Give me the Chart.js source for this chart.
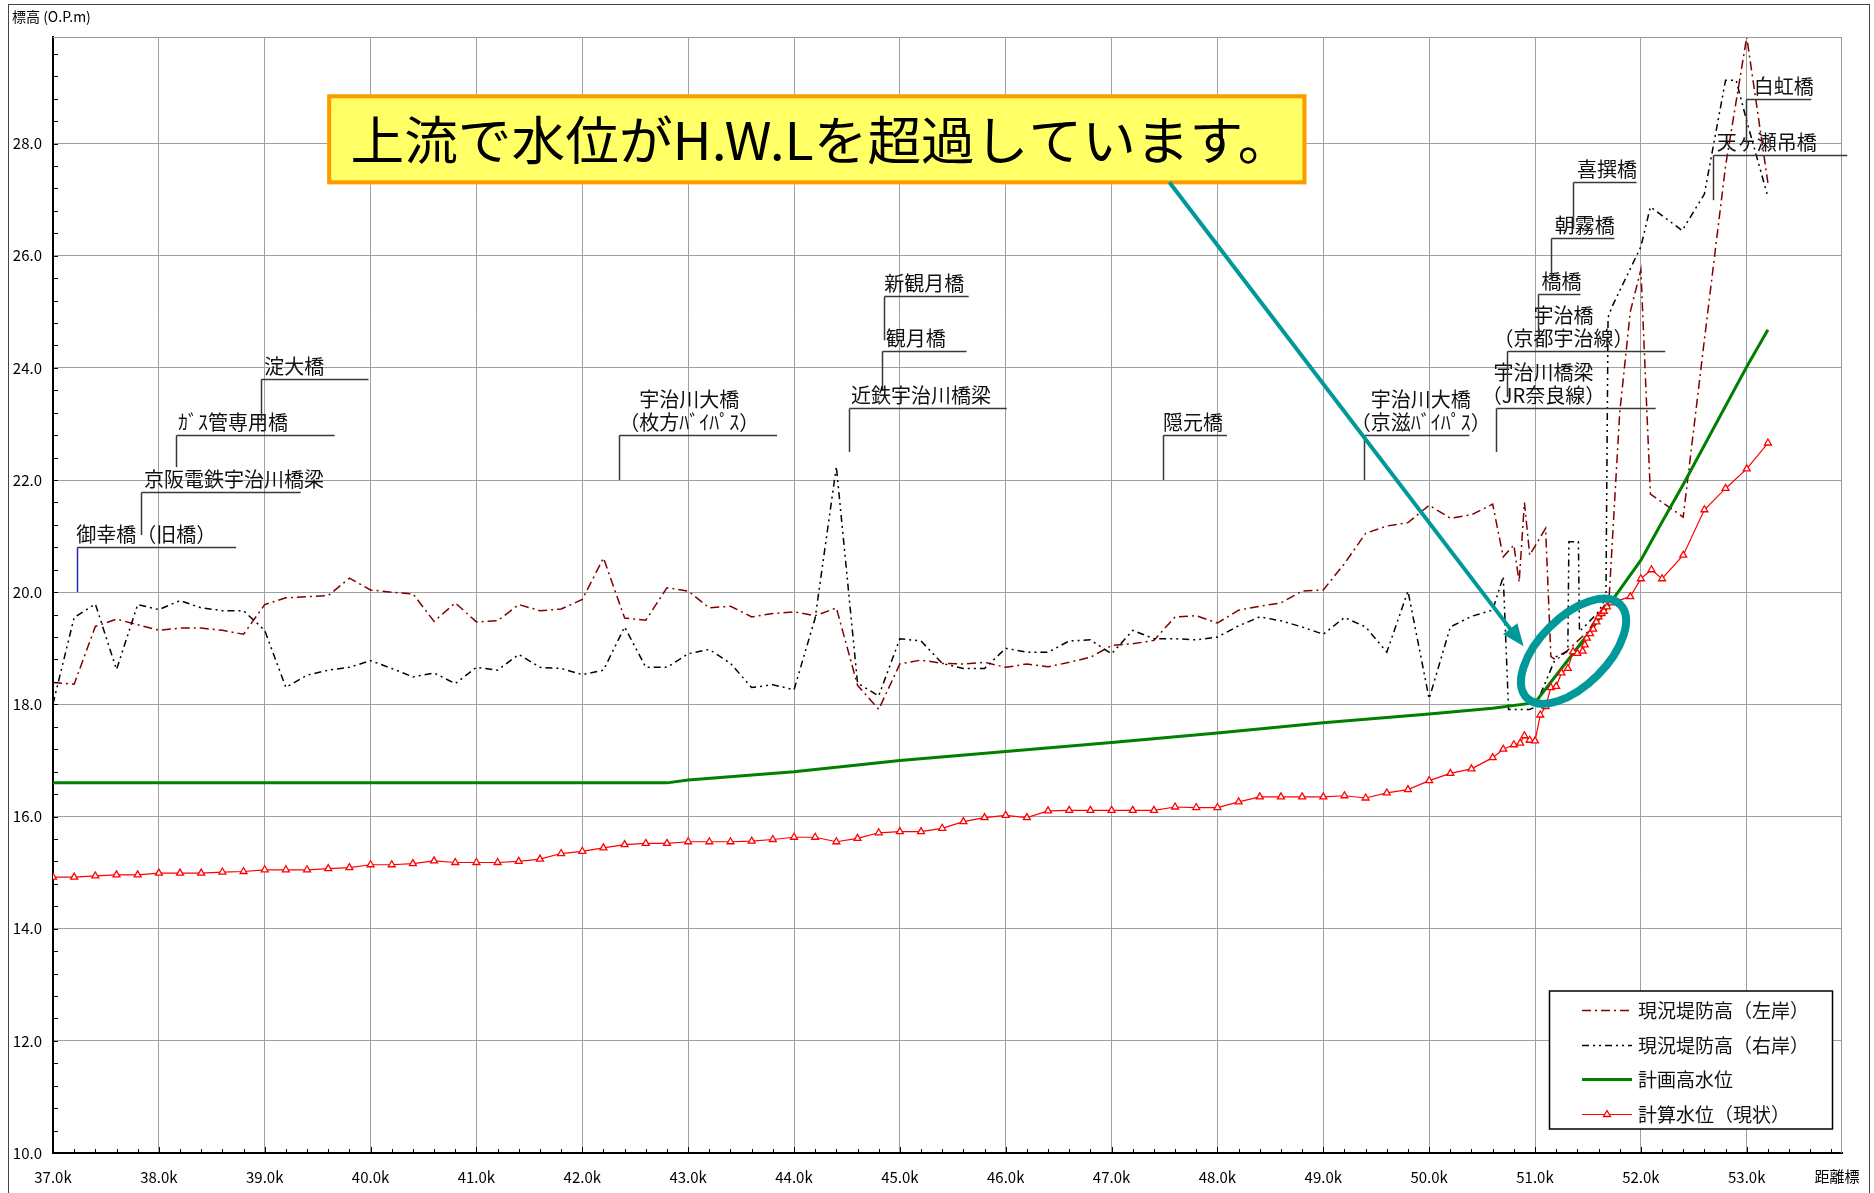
<!DOCTYPE html>
<html>
<head>
<meta charset="utf-8">
<script src="https://cdn.jsdelivr.net/npm/chart.js@4.4.1/dist/chart.umd.min.js"></script>
<style>
html, body { margin: 0; padding: 0; background: #fff; }
canvas { display: block; }
</style>
</head>
<body>
<canvas id="c" width="1874" height="1193"></canvas>
<script>
// 現況堤防高（左岸）
var leftKm = [37.0,37.2,37.4,37.6,37.8,38.0,38.2,38.4,38.6,38.8,39.0,39.2,39.4,39.6,39.8,40.0,40.2,40.4,40.6,40.8,
  41.0,41.2,41.4,41.6,41.8,42.0,42.2,42.4,42.6,42.8,43.0,43.2,43.4,43.6,43.8,44.0,44.2,44.4,44.6,44.8,
  45.0,45.2,45.4,45.6,45.8,46.0,46.2,46.4,46.6,46.8,47.0,47.2,47.4,47.6,47.8,48.0,48.2,48.4,48.6,48.8,
  49.0,49.2,49.4,49.6,49.8,50.0,50.2,50.4,50.6,50.7,50.8,50.85,50.9,50.95,51.1,51.15,51.2,51.3,51.5,51.7,
  51.8,51.9,52.0,52.09,52.4,52.6,52.8,53.0,53.2];
var leftLevel = [18.39,18.36,19.39,19.52,19.42,19.32,19.36,19.36,19.32,19.25,19.78,19.90,19.92,19.94,20.25,20.04,20.00,19.97,19.48,19.81,
  19.47,19.49,19.78,19.67,19.70,19.87,20.61,19.54,19.50,20.08,20.02,19.72,19.75,19.56,19.62,19.65,19.58,19.72,18.34,17.91,
  18.72,18.79,18.73,18.72,18.75,18.66,18.72,18.67,18.75,18.84,19.05,19.08,19.14,19.56,19.58,19.45,19.68,19.75,19.81,20.02,
  20.04,20.51,21.05,21.18,21.24,21.55,21.32,21.38,21.57,20.63,20.84,20.18,21.60,20.66,21.14,18.85,18.79,18.95,19.30,19.90,
  23.20,25.00,25.75,21.75,21.34,24.50,27.60,29.90,27.30];

// 現況堤防高（右岸）
var rightKm = [37.0,37.2,37.4,37.6,37.8,38.0,38.2,38.4,38.6,38.8,39.0,39.2,39.4,39.6,39.8,40.0,40.2,40.4,40.6,40.8,
  41.0,41.2,41.4,41.6,41.8,42.0,42.2,42.4,42.6,42.8,43.0,43.2,43.4,43.6,43.8,44.0,44.2,44.4,44.6,44.8,
  45.0,45.2,45.4,45.6,45.8,46.0,46.2,46.4,46.6,46.8,47.0,47.2,47.4,47.6,47.8,48.0,48.2,48.4,48.6,48.8,
  49.0,49.2,49.4,49.6,49.8,50.0,50.2,50.4,50.6,50.7,50.75,50.95,51.0,51.2,51.31,51.32,51.41,51.42,51.5,51.6,
  51.67,51.69,51.73,52.0,52.09,52.39,52.6,52.8,52.9,53.0,53.2];
var rightLevel = [18.01,19.55,19.79,18.62,19.78,19.69,19.85,19.72,19.67,19.67,19.32,18.30,18.52,18.61,18.66,18.78,18.64,18.49,18.56,18.37,
  18.66,18.61,18.89,18.66,18.64,18.53,18.61,19.38,18.66,18.66,18.90,18.98,18.73,18.30,18.35,18.26,19.54,22.24,18.38,18.15,
  19.17,19.13,18.73,18.64,18.64,19.00,18.93,18.93,19.13,19.15,18.90,19.32,19.17,19.17,19.15,19.20,19.40,19.56,19.49,19.38,
  19.25,19.55,19.38,18.93,20.02,18.10,19.38,19.57,19.68,20.28,17.91,17.91,17.95,18.85,18.95,20.90,20.90,19.30,19.45,19.65,
  19.90,24.90,25.10,26.16,26.87,26.45,27.10,29.13,29.13,28.40,27.05];

// 計画高水位
var hwlKm = [37.0,42.8,43.0,44.0,45.0,46.0,47.0,48.0,49.0,50.0,50.6,51.0,51.5,52.0,52.2,52.4,53.0,53.2];
var hwlLevel = [16.60,16.60,16.65,16.80,17.00,17.16,17.32,17.49,17.67,17.83,17.93,18.03,19.25,20.57,21.25,21.92,24.02,24.68];

// 計算水位（現状）
var calcKm = [37.0,37.2,37.4,37.6,37.8,38.0,38.2,38.4,38.6,38.8,39.0,39.2,39.4,39.6,39.8,40.0,40.2,40.4,40.6,40.8,
  41.0,41.2,41.4,41.6,41.8,42.0,42.2,42.4,42.6,42.8,43.0,43.2,43.4,43.6,43.8,44.0,44.2,44.4,44.6,44.8,
  45.0,45.2,45.4,45.6,45.8,46.0,46.2,46.4,46.6,46.8,47.0,47.2,47.4,47.6,47.8,48.0,48.2,48.4,48.6,48.8,
  49.0,49.2,49.4,49.6,49.8,50.0,50.2,50.4,50.6,50.7,50.8,50.86,50.9,50.95,51.0,51.05,51.1,51.15,51.2,51.25,
  51.31,51.36,51.4,51.45,51.47,51.49,51.52,51.55,51.58,51.6,51.63,51.65,51.68,51.72,51.9,52.0,52.1,52.2,52.4,52.6,
  52.8,53.0,53.2];
var calcLevel = [14.92,14.92,14.94,14.96,14.96,14.99,14.99,14.99,15.01,15.02,15.05,15.05,15.05,15.07,15.09,15.14,15.14,15.16,15.21,15.18,
  15.18,15.18,15.20,15.24,15.34,15.38,15.44,15.50,15.52,15.52,15.55,15.55,15.55,15.56,15.59,15.63,15.63,15.55,15.61,15.71,
  15.73,15.73,15.79,15.91,15.98,16.02,15.98,16.10,16.11,16.11,16.11,16.11,16.11,16.17,16.16,16.16,16.26,16.35,16.35,16.35,
  16.35,16.37,16.33,16.42,16.48,16.64,16.77,16.85,17.05,17.20,17.28,17.31,17.44,17.36,17.35,17.81,17.96,18.30,18.32,18.56,
  18.64,18.94,18.91,18.95,19.06,19.18,19.26,19.34,19.47,19.56,19.62,19.66,19.74,19.81,19.92,20.24,20.40,20.24,20.66,21.47,
  21.85,22.20,22.66];

var xTickLabelSuffix = 'k';

// 橋梁の注記
var bridgeNames = ['御幸橋（旧橋）','京阪電鉄宇治川橋梁','ｶﾞｽ管専用橋','淀大橋','宇治川大橋\n（枚方ﾊﾞｲﾊﾟｽ）',
  '新観月橋','観月橋','近鉄宇治川橋梁','隠元橋','宇治川大橋\n（京滋ﾊﾞｲﾊﾟｽ）','宇治川橋梁\n（JR奈良線）',
  '宇治橋\n（京都宇治線）','橋橋','朝霧橋','喜撰橋','天ヶ瀬吊橋','白虹橋'];
var bridgeKm = [37.225,37.834,38.165,38.968,42.346,44.847,44.832,44.516,47.486,49.384,50.627,50.738,51.027,51.147,51.362,52.681,52.997];
// leader layout (in axis units)
var leaderBottom = [20.00,21.02,22.23,23.04,22.00,24.49,23.59,22.50,22.00,22.00,22.50,23.48,24.61,25.62,26.48,26.99,28.00];
var leaderTop = [20.81,21.79,22.80,23.80,22.80,25.29,24.30,23.29,22.80,22.80,23.29,24.30,25.31,26.31,27.31,27.80,28.80];
var leaderEnd = [38.73,39.34,39.66,39.98,43.84,45.65,45.63,46.01,48.09,50.38,52.14,52.23,51.43,51.75,51.96,53.95,53.61];
var labelCenterKm = [37.88,38.71,38.70,39.28,43.01,45.23,45.15,45.20,47.77,49.92,51.08,51.27,51.25,51.47,51.68,53.19,53.35];

var calloutText = '上流で水位がH.W.Lを超過しています。';

var FAM = "'Noto Sans CJK JP', 'Noto Sans', sans-serif";
Chart.defaults.font.family = FAM;
Chart.defaults.color = '#000';

function pts(xs, ys) {
  return xs.map(function(x, i) { return {x: x, y: ys[i]}; });
}

function line(ctx, x0, y0, x1, y1) {
  ctx.beginPath(); ctx.moveTo(x0, y0); ctx.lineTo(x1, y1); ctx.stroke();
}

var overlay = {
  id: 'overlay',
  beforeDraw: function(chart) {
    var ctx = chart.ctx;
    ctx.save();
    ctx.fillStyle = '#fff';
    ctx.fillRect(0, 0, chart.width, chart.height);
    ctx.restore();
  },
  afterDraw: function(chart) {
    var ctx = chart.ctx, xs = chart.scales.x, ys = chart.scales.y, a = chart.chartArea;
    var i, j, p;
    ctx.save();

    // outer frame
    ctx.strokeStyle = '#444'; ctx.lineWidth = 1;
    ctx.strokeRect(8.5, 4.5, 1861, 1300);

    // top / right edge of plot
    ctx.strokeStyle = '#999';
    line(ctx, a.left, a.top + 0.5, a.right, a.top + 0.5);
    line(ctx, a.right - 0.5, a.top, a.right - 0.5, a.bottom);

    // minor ticks
    ctx.strokeStyle = '#000'; ctx.lineWidth = 1;
    for (i = 0; i <= 84; i++) {
      p = Math.round(xs.getPixelForValue(37 + i * 0.2)) + 0.5;
      line(ctx, p, a.bottom, p, a.bottom - (i % 5 === 0 ? 6 : 4));
    }
    for (i = 0; i <= 49; i++) {
      p = Math.round(ys.getPixelForValue(10 + i * 0.4)) + 0.5;
      line(ctx, a.left, p, a.left + 5, p);
    }

    // axis titles
    ctx.fillStyle = '#000';
    ctx.textBaseline = 'middle';
    ctx.textAlign = 'left';
    ctx.font = '14px ' + FAM;
    ctx.fillText('標高 (O.P.m)', 12, 17);
    ctx.font = '15px ' + FAM;
    ctx.textAlign = 'center';
    ctx.fillText('距離標', 1837, 1176);

    // bridge leaders
    ctx.font = '20px ' + FAM;
    ctx.lineWidth = 1.5;
    for (i = 0; i < bridgeNames.length; i++) {
      var px = Math.round(xs.getPixelForValue(bridgeKm[i])) + 0.5;
      var yb = ys.getPixelForValue(leaderBottom[i]);
      var yt = Math.round(ys.getPixelForValue(leaderTop[i])) + 0.5;
      var xe = xs.getPixelForValue(leaderEnd[i]);
      ctx.strokeStyle = i === 0 ? '#2828b8' : '#383838';
      line(ctx, px, yb, px, yt);
      ctx.strokeStyle = '#383838';
      line(ctx, px, yt, xe, yt);
      var lines = bridgeNames[i].split('\n');
      var tx = xs.getPixelForValue(labelCenterKm[i]);
      ctx.fillStyle = '#111';
      for (j = 0; j < lines.length; j++) {
        ctx.fillText(lines[j], tx, yt - 13 - (lines.length - 1 - j) * 23);
      }
    }

    // legend
    var lx = a.right - 292.5, ly = a.bottom - 162, lw = 283, lh = 138;
    ctx.fillStyle = '#fff';
    ctx.fillRect(lx, ly, lw, lh);
    ctx.strokeStyle = '#000'; ctx.lineWidth = 1.5;
    ctx.strokeRect(lx, ly, lw, lh);
    ctx.textAlign = 'left';
    ctx.font = '19px ' + FAM;
    chart.data.datasets.forEach(function(ds, k) {
      var ry = Math.round(ly + 19 + k * 34.5) + 0.5;
      ctx.save();
      ctx.strokeStyle = ds.borderColor;
      ctx.lineWidth = ds.borderWidth;
      ctx.setLineDash(ds.borderDash || []);
      line(ctx, lx + 32.5, ry, lx + 82.5, ry);
      ctx.restore();
      if (ds.pointStyle === 'triangle') {
        var r = ds.pointRadius;
        ctx.fillStyle = ds.pointBackgroundColor; ctx.strokeStyle = ds.pointBorderColor;
        ctx.beginPath();
        ctx.moveTo(lx + 57.5, ry - r);
        ctx.lineTo(lx + 57.5 + r * 0.866, ry + r / 2);
        ctx.lineTo(lx + 57.5 - r * 0.866, ry + r / 2);
        ctx.closePath();
        ctx.lineWidth = ds.pointBorderWidth;
        ctx.fill(); ctx.stroke();
      }
      ctx.fillStyle = '#111';
      ctx.fillText(ds.label, lx + 88.5, ry);
    });

    // callout box
    var bx0 = xs.getPixelForValue(39.59), bx1 = xs.getPixelForValue(48.841);
    var by0 = ys.getPixelForValue(28.878), by1 = ys.getPixelForValue(27.273);
    ctx.fillStyle = '#ffff66';
    ctx.fillRect(bx0, by0, bx1 - bx0, by1 - by0);
    ctx.strokeStyle = '#ff9900'; ctx.lineWidth = 4;
    ctx.strokeRect(bx0 + 2, by0 + 2, bx1 - bx0 - 4, by1 - by0 - 4);
    ctx.fillStyle = '#000';
    ctx.font = '52px ' + FAM;
    ctx.textAlign = 'left';
    var tx0 = xs.getPixelForValue(39.81), tx1 = xs.getPixelForValue(48.70);
    var tw = ctx.measureText(calloutText).width;
    ctx.save();
    ctx.translate(tx0, ys.getPixelForValue(28.058));
    ctx.scale((tx1 - tx0) / tw, 1);
    ctx.fillText(calloutText, 0, 0);
    ctx.restore();

    // arrow
    var ax0 = xs.getPixelForValue(47.546), ay0 = ys.getPixelForValue(27.309);
    var ax1 = xs.getPixelForValue(50.892), ay1 = ys.getPixelForValue(19.035);
    var ang = Math.atan2(ay1 - ay0, ax1 - ax0);
    ctx.strokeStyle = '#009999'; ctx.fillStyle = '#009999'; ctx.lineWidth = 4;
    line(ctx, ax0, ay0, ax1 - 16 * Math.cos(ang), ay1 - 16 * Math.sin(ang));
    ctx.beginPath();
    ctx.moveTo(ax1, ay1);
    ctx.lineTo(ax1 - 22 * Math.cos(ang) + 9 * Math.sin(ang), ay1 - 22 * Math.sin(ang) - 9 * Math.cos(ang));
    ctx.lineTo(ax1 - 22 * Math.cos(ang) - 9 * Math.sin(ang), ay1 - 22 * Math.sin(ang) + 9 * Math.cos(ang));
    ctx.closePath();
    ctx.fill();

    // ellipse
    ctx.lineWidth = 8;
    ctx.beginPath();
    ctx.ellipse(xs.getPixelForValue(51.364), ys.getPixelForValue(18.947), 66, 34, -Math.PI / 4, 0, Math.PI * 2);
    ctx.stroke();

    ctx.restore();
  }
};

new Chart(document.getElementById('c'), {
  type: 'line',
  data: {
    datasets: [
      {label: '現況堤防高（左岸）', data: pts(leftKm, leftLevel), borderColor: '#800000', borderWidth: 1.5,
        borderDash: [9, 4, 2, 4], pointRadius: 0, order: 3},
      {label: '現況堤防高（右岸）', data: pts(rightKm, rightLevel), borderColor: '#000000', borderWidth: 1.5,
        borderDash: [7, 4, 2, 4, 2, 4], pointRadius: 0, order: 2},
      {label: '計画高水位', data: pts(hwlKm, hwlLevel), borderColor: '#008000', borderWidth: 3,
        pointRadius: 0, order: 1},
      {label: '計算水位（現状）', data: pts(calcKm, calcLevel), borderColor: '#ff0000', borderWidth: 1.2,
        pointStyle: 'triangle', pointRadius: 4, pointBorderColor: '#ff0000', pointBackgroundColor: '#ffffff',
        pointBorderWidth: 1.3, order: 0}
    ]
  },
  options: {
    responsive: false,
    animation: false,
    devicePixelRatio: 1,
    layout: {padding: {left: 0, right: 32, top: 37, bottom: 0}},
    plugins: {legend: {display: false}, tooltip: {enabled: false}},
    elements: {line: {tension: 0}},
    scales: {
      x: {
        type: 'linear', min: 37, max: 53.9,
        afterFit: function(s) { s.height = 40; },
        grid: {color: '#a0a0a0', lineWidth: 1, drawTicks: false},
        border: {color: '#000', width: 2},
        ticks: {stepSize: 1, includeBounds: false, autoSkip: false, maxRotation: 0, padding: 15,
          font: {size: 15}, color: '#000',
          callback: function(v) { return v.toFixed(1) + xTickLabelSuffix; }}
      },
      y: {
        min: 10, max: 29.9,
        afterFit: function(s) { s.width = 53; },
        grid: {color: '#a0a0a0', lineWidth: 1, drawTicks: false},
        border: {color: '#000', width: 2},
        ticks: {stepSize: 2, includeBounds: false, padding: 11, font: {size: 15}, color: '#000',
          callback: function(v) { return v.toFixed(1); }}
      }
    }
  },
  plugins: [overlay]
});
</script>
</body>
</html>
